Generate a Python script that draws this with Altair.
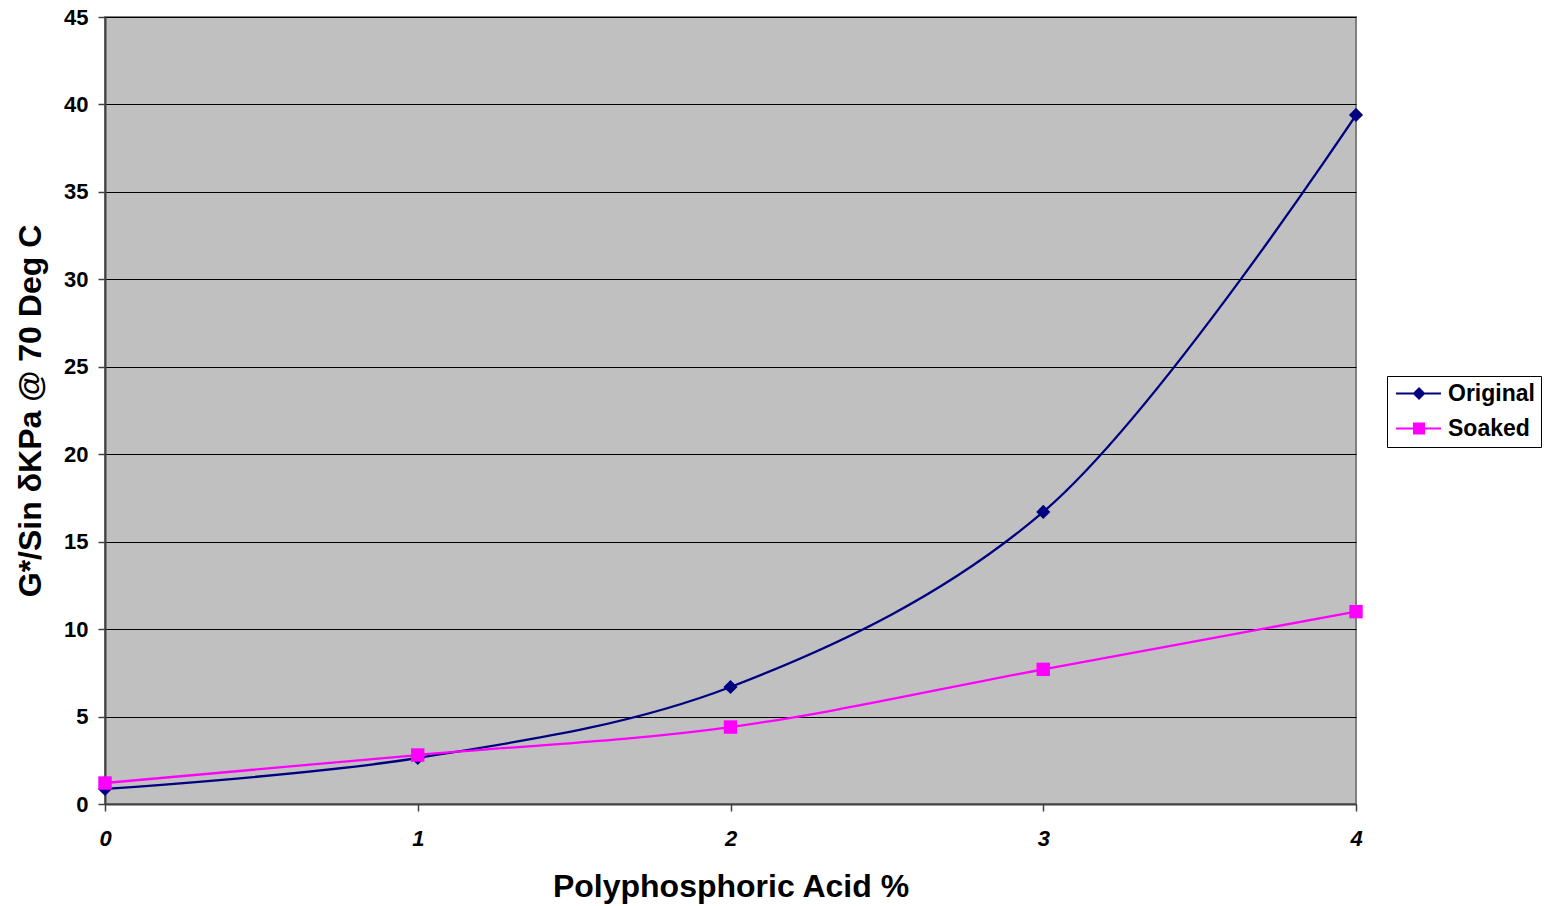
import altair as alt
import pandas as pd

pct = [0, 1, 2, 3, 4]
original = [0.86, 2.63, 6.69, 16.7, 39.4]
soaked = [1.2, 2.8, 4.4, 7.7, 11.0]
series_names = ["Original", "Soaked"]
series_colors = ["#000080", "#FF00FF"]
y_ticks = [0, 5, 10, 15, 20, 25, 30, 35, 40, 45]
x_ticks = [0, 1, 2, 3, 4]

rows = []
for x, v in zip(pct, original):
    rows.append({"pct": x, "value": v, "series": "Original"})
for x, v in zip(pct, soaked):
    rows.append({"pct": x, "value": v, "series": "Soaked"})
df = pd.DataFrame(rows)

FONT = "Liberation Sans"

x_enc = alt.X("pct:Q", scale=alt.Scale(domain=[0, 4], nice=False, zero=False),
              axis=alt.Axis(values=x_ticks, format="d", title="Polyphosphoric Acid %", grid=False,
                            labelFlush=False,
                            labelFontStyle="italic", labelFontWeight="bold", labelFontSize=22,
                            labelFont=FONT, labelColor="black", labelPadding=17,
                            tickSize=7, tickColor="#404040", tickWidth=1.5,
                            domainColor="#404040", domainWidth=2,
                            titleFont=FONT, titleFontSize=32, titleFontWeight="bold",
                            titleColor="black", titlePadding=22))
y_enc = alt.Y("value:Q", scale=alt.Scale(domain=[0, 45], nice=False),
              axis=alt.Axis(values=y_ticks, title="G*/Sin δKPa @ 70 Deg C", grid=True,
                            gridColor="black", gridWidth=1, labelFlush=False,
                            labelFontWeight="bold", labelFontSize=22, labelFont=FONT,
                            labelColor="black", labelPadding=10,
                            tickSize=7, tickColor="#404040", tickWidth=1.5,
                            domainColor="#404040", domainWidth=2,
                            titleFont=FONT, titleFontSize=32, titleFontWeight="bold",
                            titleColor="black", titlePadding=16))
color_scale = alt.Scale(domain=series_names, range=series_colors)

lines = alt.Chart(df).mark_line(strokeWidth=2.3, interpolate="catmull-rom").encode(
    x=x_enc, y=y_enc,
    color=alt.Color("series:N", scale=color_scale, legend=None),
    detail="series:N",
)

diamonds = alt.Chart(df).transform_filter(alt.datum.series == "Original").mark_point(
    shape="diamond", filled=True, size=200, opacity=1).encode(
    x="pct:Q", y="value:Q",
    color=alt.Color("series:N", scale=color_scale, legend=None),
)
squares = alt.Chart(df).transform_filter(alt.datum.series == "Soaked").mark_point(
    shape="square", filled=True, size=180, opacity=1).encode(
    x="pct:Q", y="value:Q",
    color=alt.Color("series:N", scale=color_scale, legend=None),
)

# legend symbols (unit = 8.5 px): line segment plus marker
sym_orig = ("M-1.0,-0.12H4.29V0.12H-1.0Z"
            "M1.71,-0.76L2.47,0L1.71,0.76L0.95,0Z")
sym_soak = ("M-1.0,-0.12H4.29V0.12H-1.0Z"
            "M1.0,-0.71H2.42V0.71H1.0Z")

legend_layer = alt.Chart(df).mark_point(filled=True, opacity=1, size=0).encode(
    x="pct:Q", y="value:Q",
    color=alt.Color("series:N", scale=color_scale,
                    legend=alt.Legend(title=None, orient="none", legendX=1282, legendY=359,
                                      symbolSize=289, symbolStrokeWidth=0,
                                      labelExpr="datum.label + ' '",
                                      labelFont=FONT, labelFontSize=23, labelFontWeight="bold",
                                      labelColor="black", labelOffset=32, rowPadding=11,
                                      padding=6, strokeColor="black", fillColor="white")),
    shape=alt.Shape("series:N", scale=alt.Scale(domain=series_names, range=[sym_orig, sym_soak])),
)

chart = alt.layer(lines, diamonds, squares, legend_layer).resolve_legend(
    color="independent", shape="independent"
).properties(
    width=1251, height=787,
    autosize=alt.AutoSizeParams(type="none"),
    padding={"left": 105, "top": 17, "right": 196, "bottom": 102},
    background="white",
).configure_view(fill="#C0C0C0", stroke="#808080", strokeWidth=2)

chart.save("out.html", embed_options={"renderer": "svg", "actions": False})
